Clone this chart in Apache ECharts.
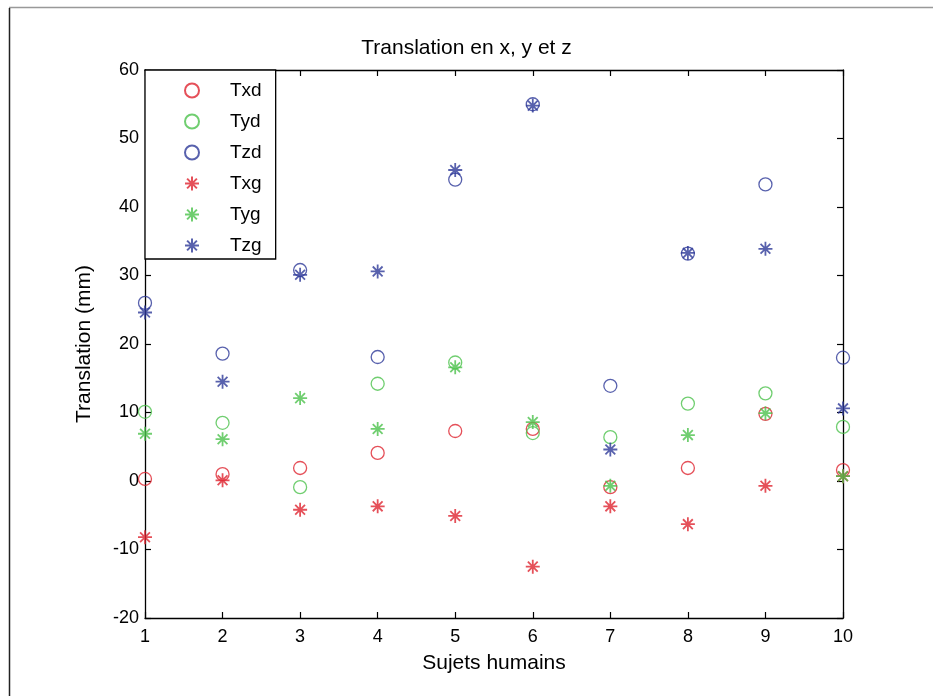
<!DOCTYPE html>
<html>
<head>
<meta charset="utf-8">
<script src="https://cdn.jsdelivr.net/npm/echarts@6/dist/echarts.min.js"></script>
<style>html,body{margin:0;padding:0;background:#fff;}#c{width:933px;height:696px;}</style>
</head>
<body>
<div id="c"></div>
<script>
const subjects = [1, 2, 3, 4, 5, 6, 7, 8, 9, 10];
const Txd = [0.3, 1.0, 1.9, 4.1, 7.3, 7.6, -0.9, 1.9, 9.8, 1.6];
const Tyd = [10.1, 8.5, -0.9, 14.2, 17.3, 7.0, 6.4, 11.3, 12.8, 7.9];
const Tzd = [26.0, 18.6, 30.8, 18.1, 44.0, 55.0, 13.9, 33.2, 43.3, 18.0];
const Txg = [-8.2, 0.1, -4.2, -3.7, -5.1, -12.5, -3.7, -6.3, -0.7, 0.7];
const Tyg = [6.9, 6.1, 12.1, 7.6, 16.6, 8.6, -0.7, 6.7, 9.9, 0.7];
const Tzg = [24.6, 14.5, 30.1, 30.6, 45.4, 54.8, 4.6, 33.3, 33.9, 10.6];
const yTicks = [-20, -10, 0, 10, 20, 30, 40, 50, 60];

const RED = '#de2430', GREEN = '#4cc24c', BLUE = '#2e3a98';
const FONT = '"Liberation Sans Narrow", "Liberation Sans", Arial, sans-serif';
const STAR = 'path://M0,10L20,10M10,0L10,20M3,3L17,17M3,17L17,3';

function pairs(vals) { return subjects.map((s, i) => [s, vals[i]]); }
function circleSeries(name, vals, col) {
  return { name, type: 'scatter', data: pairs(vals), symbol: 'circle', symbolSize: 13,
    itemStyle: { color: 'rgba(255,255,255,0)', borderColor: col, borderWidth: 1.3 }, z: 3 };
}
function starSeries(name, vals, col) {
  return { name, type: 'scatter', data: pairs(vals), symbol: STAR, symbolSize: 14,
    itemStyle: { color: 'rgba(255,255,255,0)', borderColor: col, borderWidth: 1.8 }, z: 4 };
}

const chart = echarts.init(document.getElementById('c'), null, { renderer: 'canvas' });
const axisCommon = {
  axisLine: { show: true, onZero: false, lineStyle: { color: '#000', width: 1.3 } },
  axisTick: { show: true, inside: true, length: 6, lineStyle: { color: '#000', width: 1.2 } },
  splitLine: { show: false },
  axisLabel: { color: '#000', fontFamily: FONT, fontSize: 18 }
};
chart.setOption({
  backgroundColor: '#fff',
  animation: false,
  title: { text: 'Translation en x, y et z', left: 'center', top: 33,
    textStyle: { fontFamily: FONT, fontSize: 21, fontWeight: 'normal', color: '#000' } },
  grid: { left: 145, right: 90, top: 70, bottom: 78 },
  legend: {
    orient: 'vertical', left: 145, top: 70,
    data: ['Txd', 'Tyd', 'Tzd', 'Txg', 'Tyg', 'Tzg'],
    backgroundColor: '#fff', borderColor: '#000', borderWidth: 1.3,
    padding: [11, 14, 4, 39], itemWidth: 22, itemHeight: 14, itemGap: 12,
    textStyle: { fontFamily: FONT, fontSize: 19, color: '#000', padding: [0, 0, 0, 22] }
  },
  xAxis: [
    Object.assign({}, axisCommon, { type: 'value', min: 1, max: 10, interval: 1,
      name: 'Sujets humains', nameLocation: 'middle', nameGap: 35,
      nameTextStyle: { fontFamily: FONT, fontSize: 21, color: '#000' },
      axisLabel: Object.assign({}, axisCommon.axisLabel, { margin: 10 }) }),
    Object.assign({}, axisCommon, { type: 'value', min: 1, max: 10, interval: 1, position: 'top',
      axisLabel: { show: false } })
  ],
  yAxis: [
    Object.assign({}, axisCommon, { type: 'value', min: yTicks[0], max: yTicks[yTicks.length - 1], interval: 10,
      name: 'Translation (mm)', nameLocation: 'middle', nameGap: 50,
      nameTextStyle: { fontFamily: FONT, fontSize: 21, color: '#000' },
      axisLabel: Object.assign({}, axisCommon.axisLabel, { margin: 6 }) }),
    Object.assign({}, axisCommon, { type: 'value', min: yTicks[0], max: yTicks[yTicks.length - 1], interval: 10, position: 'right',
      axisLabel: { show: false } })
  ],
  series: [
    circleSeries('Txd', Txd, RED),
    circleSeries('Tyd', Tyd, GREEN),
    circleSeries('Tzd', Tzd, BLUE),
    starSeries('Txg', Txg, RED),
    starSeries('Tyg', Tyg, GREEN),
    starSeries('Tzg', Tzg, BLUE)
  ],
  graphic: [
    { type: 'line', shape: { x1: 9, y1: 7.5, x2: 933, y2: 7.5 }, style: { stroke: '#999', lineWidth: 1.5 } },
    { type: 'line', shape: { x1: 9.5, y1: 8, x2: 9.5, y2: 696 }, style: { stroke: '#222', lineWidth: 1.5 } }
  ]
});
</script>
</body>
</html>
